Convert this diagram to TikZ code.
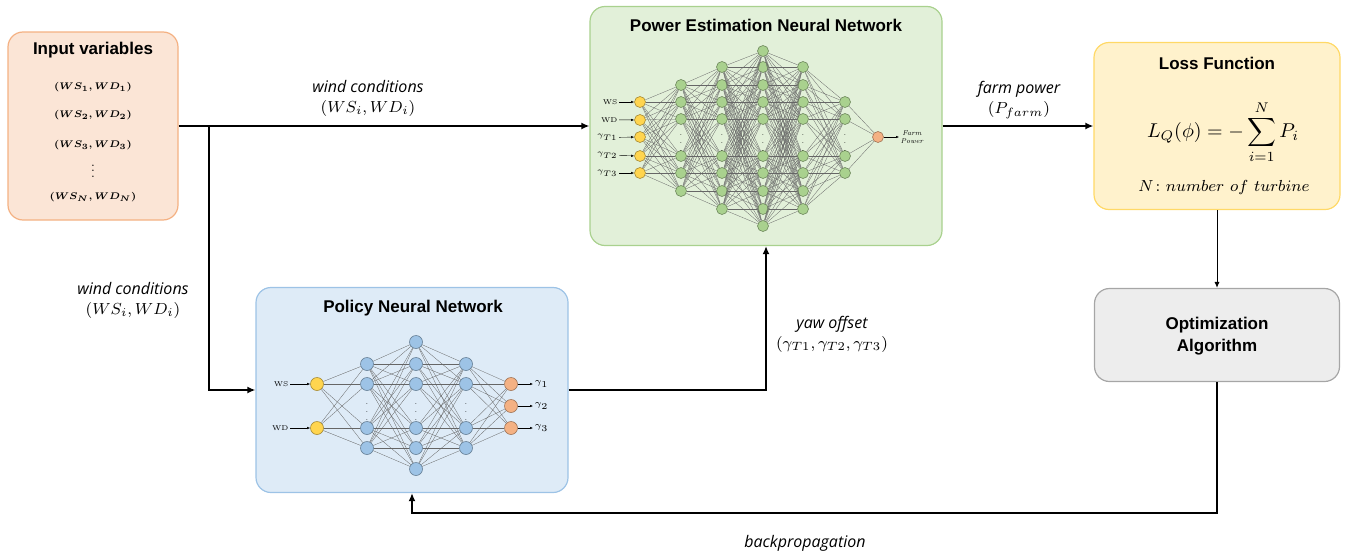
\documentclass[tikz,border=0pt]{standalone}
\usepackage{fontspec}
\setsansfont{Liberation Sans}
\newfontfamily\notefont{Open Sans}
\usepackage{amsmath}
\usepackage{bm}
\usepackage{graphicx}
\usetikzlibrary{arrows.meta}

\definecolor{inputfill}{HTML}{FBE5D6}
\definecolor{inputdraw}{HTML}{F4B183}
\definecolor{powerfill}{HTML}{E2F0D9}
\definecolor{powerdraw}{HTML}{A9D18E}
\definecolor{policyfill}{HTML}{DEEBF7}
\definecolor{policydraw}{HTML}{9DC3E6}
\definecolor{lossfill}{HTML}{FFF2CC}
\definecolor{lossdraw}{HTML}{FFD966}
\definecolor{optfill}{HTML}{EDEDED}
\definecolor{optdraw}{HTML}{A6A6A6}
\definecolor{neuyellow}{HTML}{FFD54F}
\definecolor{neugreen}{HTML}{A9D18E}
\definecolor{neublue}{HTML}{9DC3E6}
\definecolor{neuorange}{HTML}{F4B183}

\begin{document}
\begin{tikzpicture}[x=0.5pt,y=-0.5pt,
    box/.style={draw, rounded corners=7.5pt, line width=0.6pt, inner sep=0pt},
    title/.style={font=\sffamily\bfseries\fontsize{8.5}{11}\selectfont, align=center},
    note/.style={font=\notefont\itshape\fontsize{8}{10}\selectfont, align=center},
    var/.style={font=\fontsize{6}{7}\selectfont, inner sep=0.5pt},
    flow/.style={line width=1pt, -{Latex[length=4pt,width=3.5pt]}},
    thinflow/.style={line width=0.5pt, -{Latex[length=3pt,width=2.6pt]}},
    neuron/.style={circle, draw=#1!65!black, fill=#1, line width=0.3pt, inner sep=0pt},
    link/.style={draw=black!60, line width=0.15pt},
    tiny/.style={font=\fontsize{3.5}{4}\selectfont, inner sep=0.6pt},
    tinyflow/.style={line width=0.2pt, -{Latex[length=1.5pt,width=1.2pt]}},
    dots/.style={font=\fontsize{4}{4}\selectfont, inner sep=0pt}]
\useasboundingbox (0,0) rectangle (1348,557);

% boxes
\node[box, draw=inputdraw, fill=inputfill, minimum width=85pt, minimum height=94pt] (input) at (93,126) {};
\node[box, draw=powerdraw, fill=powerfill, minimum width=176pt, minimum height=119.5pt] (power) at (766,126) {};
\node[box, draw=policydraw, fill=policyfill, minimum width=156pt, minimum height=102.5pt] (policy) at (412,390) {};
\node[box, draw=lossdraw, fill=lossfill, minimum width=123pt, minimum height=83.5pt] (loss) at (1217,126) {};
\node[box, draw=optdraw, fill=optfill, minimum width=122.5pt, minimum height=46.5pt] (opt) at (1217,335) {};

% input variables
\node[title] (inputtitle) at (93,50) {Input variables};
\node[var] (v1) at (93,87) {\scalebox{0.8}{$\bm{(WS_1,WD_1)}$}};
\node[var] (v2) at (93,115) {\scalebox{0.8}{$\bm{(WS_2,WD_2)}$}};
\node[var] (v3) at (93,145) {\scalebox{0.8}{$\bm{(WS_3,WD_3)}$}};
\node[var, inner sep=0pt] (vdots) at (93,167) {\scalebox{0.7}{$\bm{\vdots}$}};
\node[var] (vn) at (93,197) {\scalebox{0.8}{$\bm{(WS_N,WD_N)}$}};

% power estimation network
\node[title] (powertitle) at (766,25) {Power Estimation Neural Network};
\foreach \l/\x/\ys/\c in {1/640/{102,120,137,156,173}/neuyellow,
    2/681/{85,102,119,156,173,191}/neugreen,
    3/722/{67,85,102,119,156,173,191,209}/neugreen,
    4/763/{51,67,85,102,119,156,173,191,209,226}/neugreen,
    5/803/{67,85,102,119,156,173,191,209}/neugreen,
    6/845/{102,119,156,173}/neugreen,
    7/878/{137}/neuorange}
  \foreach \y [count=\k] in \ys
    \node[neuron=\c, minimum size=5.5pt] (pe\l-\k) at (\x,\y) {};
\foreach \a/\b/\na/\nb in {1/2/5/6,2/3/6/8,3/4/8/10,4/5/10/8,5/6/8/4,6/7/4/1}
  \foreach \i in {1,...,\na}
    \foreach \j in {1,...,\nb}
      \draw[link] (pe\a-\i) -- (pe\b-\j);
\foreach \x in {681,722,763,803,845}
  \node[dots] (ped\x) at (\x,137) {$\vdots$};
\foreach \t [count=\k] in {WS,WD,\scalebox{0.8}{$\gamma_{T1}$},\scalebox{0.8}{$\gamma_{T2}$},\scalebox{0.8}{$\gamma_{T3}$}} {
  \node[tiny, anchor=east] (pin\k) at (619,{102+17.75*(\k-1)}) {\t};
  \draw[tinyflow] (pin\k) -- (pe1-\k);
}
\node[tiny, anchor=west, align=center, font=\fontsize{3.5}{4}\selectfont\itshape] (pout) at (899,137) {Farm\\Power};
\draw[tinyflow] (pe7-1) -- (pout);

% policy network
\node[title] (policytitle) at (413,308) {Policy Neural Network};
\foreach \l/\x/\ys/\c in {1/317/{384,428}/neuyellow,
    2/367/{364,384,428,448}/neublue,
    3/416/{342,364,384,428,448,469}/neublue,
    4/466/{364,384,428,448}/neublue,
    5/511/{384,406,428}/neuorange}
  \foreach \y [count=\k] in \ys
    \node[neuron=\c, minimum size=6.5pt] (po\l-\k) at (\x,\y) {};
\foreach \a/\b/\na/\nb in {1/2/2/4,2/3/4/6,3/4/6/4,4/5/4/3}
  \foreach \i in {1,...,\na}
    \foreach \j in {1,...,\nb}
      \draw[link] (po\a-\i) -- (po\b-\j);
\foreach \x in {367,416,466}
  \node[dots] (pod\x) at (\x,406) {$\vdots$};
\node[tiny, anchor=east] (pows) at (290,384) {WS};
\node[tiny, anchor=east] (powd) at (290,428) {WD};
\draw[tinyflow] (pows) -- (po1-1);
\draw[tinyflow] (powd) -- (po1-2);
\foreach \k in {1,2,3} {
  \node[tiny, anchor=west] (pogam\k) at (533,{384+22*(\k-1)}) {\scalebox{0.9}{$\gamma_{\k}$}};
  \draw[tinyflow] (po5-\k) -- (pogam\k);
}

% loss function
\node[title] (losstitle) at (1217,63) {Loss Function};
\node[font=\fontsize{10}{12}\selectfont, inner sep=0pt] (lossf) at (1223,132) {$\displaystyle L_Q(\phi) = -\sum_{i=1}^{N} P_i$};
\node[font=\fontsize{8.5}{10}\selectfont] (lossn) at (1224,187) {$N\colon number\ of\ turbine$};

% optimization
\node[title] (opttitle) at (1217,336) {Optimization\\Algorithm};

% connectors
\coordinate (split) at (209,126);
\coordinate (back) at (800,513);
\draw[flow] (input.east) -- (power.west);
\draw[flow] (split) |- (policy.west);
\draw[flow] (policy.east) -| (power.south);
\draw[flow] (power.east) -- (loss.west);
\draw[thinflow] (loss.south) -- (opt.north);
\draw[flow] (opt.south) |- (back) -| (policy.south);

% labels
\node[note] (wc1) at (368,98) {wind conditions\\$(WS_i,WD_i)$};
\node[note] (wc2) at (133,300) {wind conditions\\$(WS_i,WD_i)$};
\node[note] (fp) at (1019,100) {farm power\\$(P_{farm})$};
\node[note] (yaw) at (832,334) {yaw offset\\$(\gamma_{T1},\gamma_{T2},\gamma_{T3})$};
\node[note] (bp) at (805,543) {backpropagation};
\end{tikzpicture}
\end{document}
